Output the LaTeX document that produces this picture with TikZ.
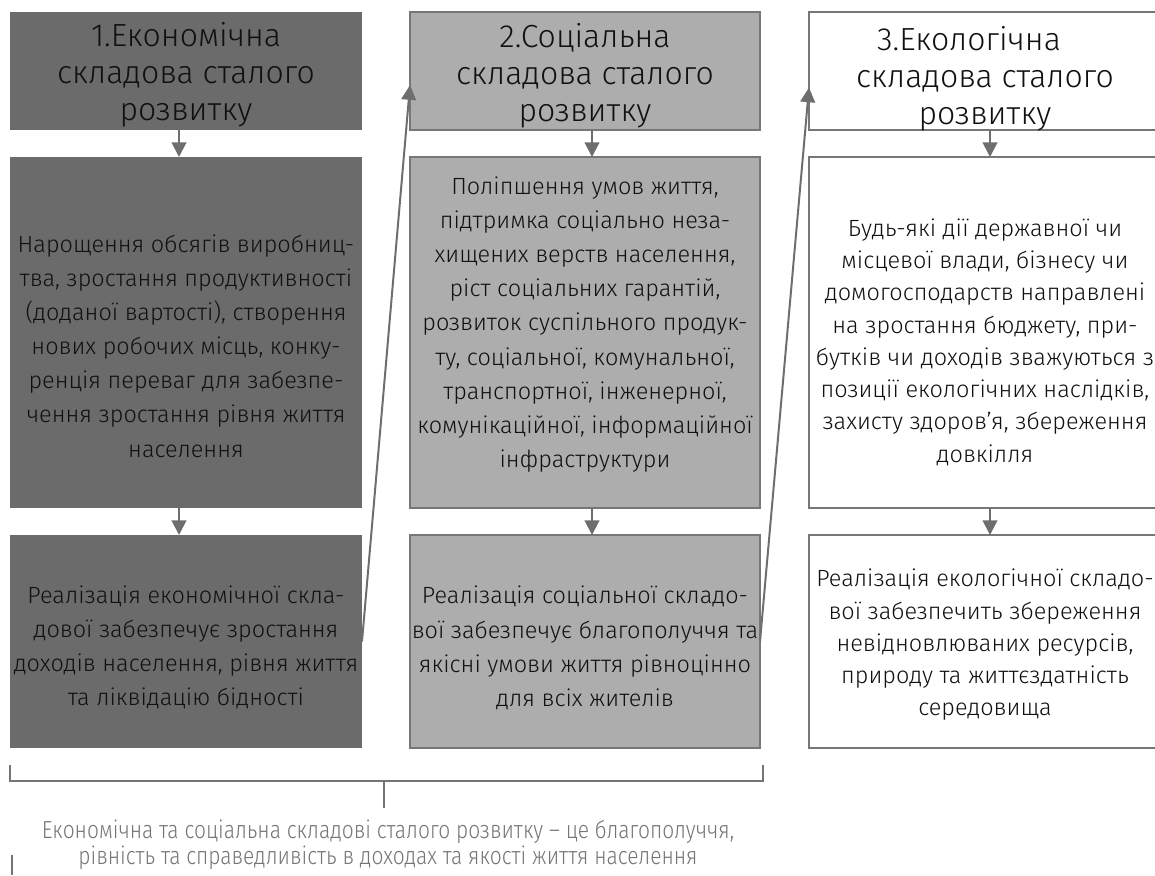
\documentclass[tikz,border=0pt]{standalone}
\usepackage{fontspec}
\setmainfont{Fira Sans}[UprightFont=* Light]
\newfontfamily\condfont{Fira Sans}[UprightFont=* Light, FakeStretch=0.85]
\usetikzlibrary{arrows.meta,calc}
\definecolor{darkfill}{HTML}{6B6B6B}
\definecolor{midfill}{HTML}{ADADAD}
\definecolor{edgegray}{HTML}{777777}
\definecolor{linegray}{HTML}{6E6E6E}
\definecolor{notegray}{HTML}{757575}
\definecolor{txt}{HTML}{111111}
\begin{document}
\begin{tikzpicture}[x=0.75pt,y=-0.75pt,
  box/.style={rectangle, inner sep=0pt, outer sep=0pt},
  col1/.style={box, fill=darkfill, minimum width=264pt},
  col2/.style={box, fill=midfill, draw=edgegray, line width=1.8pt, minimum width=262.5pt},
  col3/.style={box, fill=white, draw=edgegray, line width=1.8pt, minimum width=264pt},
  tbox/.style={minimum height=88.5pt},
  bbox/.style={minimum height=263.25pt},
  rbox/.style={minimum height=159.75pt},
  txtbase/.style={inner sep=0pt, align=center, text=txt},
  titletxt/.style={txtbase, font=\fontsize{24}{27.75}\selectfont},
  bodytxt/.style={txtbase, font=\fontsize{17.6}{25.6}\selectfont},
  bodytight/.style={txtbase, font=\fontsize{17.6}{24.2}\selectfont},
  conn/.style={draw=linegray, line width=1.5pt, -{Triangle[length=11pt,width=11pt]}},
  brace/.style={draw=notegray, line width=1.5pt}
]
\useasboundingbox (0,0) rectangle (1155,875);

% boxes
\node[col1,tbox] (t1) at (186,71) {};
\node[col1,bbox] (b1) at (186,332.5) {};
\node[col1,rbox] (r1) at (186,641.5) {};
\node[col2,tbox] (t2) at (585,71) {};
\node[col2,bbox] (b2) at (585,332.5) {};
\node[col2,rbox] (r2) at (585,641.5) {};
\node[col3,tbox] (t3) at (985,71) {};
\node[col3,bbox] (b3) at (985,332.5) {};
\node[col3,rbox] (r3) at (985,641.5) {};

% texts
\node[titletxt] (t1x) at (186,75) {1.Економічна\\ складова сталого\\ розвитку};
\node[titletxt] (t2x) at (585,76) {2.Соціальна\\ складова сталого\\ розвитку};
\node[titletxt] (t3x) at (985,79) {3.Екологічна\hspace*{24pt}\\ складова сталого\\ розвитку};

\node[bodytxt] (b1x) at (186,346) {Нарощення обсягів виробниц-\\ тва, зростання продуктивності\\ (доданої вартості), створення\\ нових робочих місць, конку-\\ ренція переваг для забезпе-\\ чення зростання рівня життя\\ населення};
\node[bodytxt] (b2x) at (585,324.5) {Поліпшення умов життя,\\ підтримка соціально неза-\\ хищених верств населення,\\ ріст соціальних гарантій,\\ розвиток суспільного продук-\\ ту, соціальної, комунальної,\\ транспортної, інженерної,\\ комунікаційної, інформаційної\\ інфраструктури};
\node[bodytight] (b3x) at (985,342) {Будь-які дії державної чи\\ місцевої влади, бізнесу чи\\ домогосподарств направлені\\ на зростання бюджету, при-\\ бутків чи доходів зважуються з\\ позиції екологічних наслідків,\\ захисту здоров’я, збереження\\ довкілля};

\node[bodytxt] (r1x) at (186,647.5) {Реалізація економічної скла-\\ дової забезпечує зростання\\ доходів населення, рівня життя\\ та ліквідацію бідності};
\node[bodytxt] (r2x) at (585,648) {Реалізація соціальної складо-\\ вої забезпечує благополуччя та\\ якісні умови життя рівноцінно\\ для всіх жителів};
\node[bodytight] (r3x) at (985,645) {Реалізація екологічної складо-\\ вої забезпечить збереження\\ невідновлюваних ресурсів,\\ природу та життєздатність\\ середовища};

% vertical arrows
\draw[conn] ([xshift=-5.25pt]t1.south) -- ([xshift=-5.25pt]b1.north);
\draw[conn] ([xshift=-5.25pt]b1.south) -- ([xshift=-5.25pt]r1.north);
\draw[conn] ([xshift=5.25pt]t2.south) -- ([xshift=5.25pt]b2.north);
\draw[conn] ([xshift=5.25pt]b2.south) -- ([xshift=5.25pt]r2.north);
\draw[conn] ([xshift=3.75pt]t3.south) -- ([xshift=3.75pt]b3.north);
\draw[conn] ([xshift=3.75pt]b3.south) -- ([xshift=3.75pt]r3.north);

% diagonal arrows
\draw[conn] (r1.east) -- ($(t2.north west)!0.62!(t2.south west)$);
\draw[conn] (r2.east) -- ($(t3.north west)!0.64!(t3.south west)$);

% bracket
\coordinate (bl) at (10,765);
\coordinate (blc) at (10,781);
\coordinate (brc) at (763,781);
\coordinate (br) at (763,765);
\coordinate (stemtop) at (384,781);
\coordinate (stembot) at (384,808);
\draw[brace] (bl) -- (blc) -- (brc) -- (br);
\draw[brace] (stemtop) -- (stembot);
\node[inner sep=0pt, align=center, text=notegray, font=\condfont\fontsize{18.5}{19.5}\selectfont] (note) at (388,845) {Економічна та соціальна складові сталого розвитку – це благополуччя,\\ рівність та справедливість в доходах та якості життя населення};

% small mark
\coordinate (mk1) at (12,855);
\coordinate (mk2) at (12,875);
\draw[brace] (mk1) -- (mk2);
\end{tikzpicture}
\end{document}
